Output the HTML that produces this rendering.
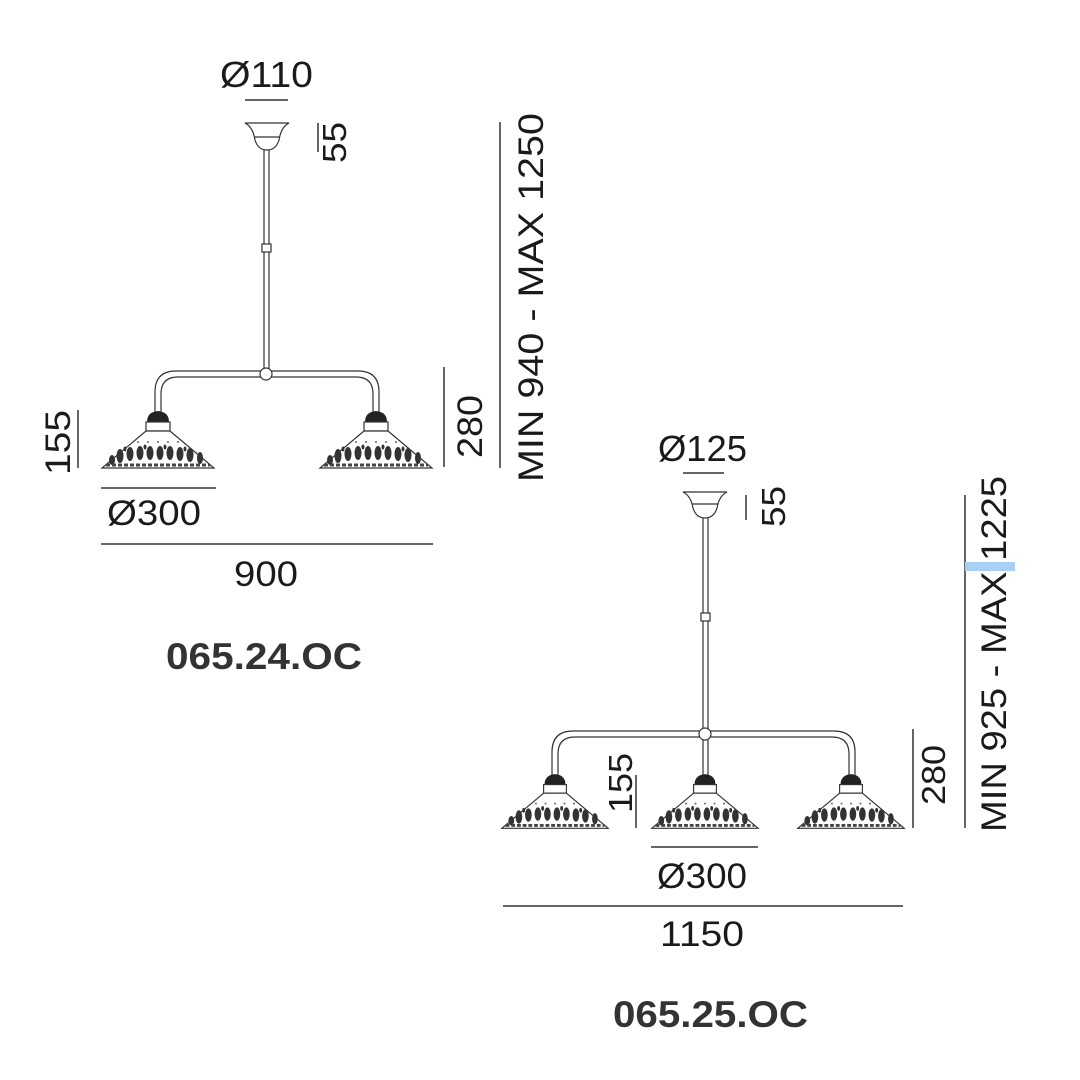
<!DOCTYPE html>
<html><head><meta charset="utf-8"><style>
html,body{margin:0;padding:0;background:#fff}
svg{display:block}
text{font-family:"Liberation Sans",sans-serif;fill:#1a1a1a}
</style></head><body>
<svg width="1080" height="1080" viewBox="0 0 1080 1080" xmlns="http://www.w3.org/2000/svg">
<defs>
<g id="shade">
 <path d="M-11,-12 Q-11,-22 0,-23 Q11,-22 11,-12 Z" fill="#222"/>
 <rect x="-12" y="-12" width="24" height="9" fill="#fff" stroke="#333" stroke-width="1.2"/>
 <path d="M-12,-3 L12,-3 L56,34 L-56,34 Z" fill="#fff" stroke="#333" stroke-width="1.2"/>
 <g fill="#333">
  <ellipse cx="-38" cy="22" rx="3.5" ry="7"/><ellipse cx="-28" cy="20" rx="3.5" ry="7"/>
  <ellipse cx="-18" cy="19" rx="3.5" ry="7"/><ellipse cx="-8" cy="19" rx="3.5" ry="7"/>
  <ellipse cx="2" cy="19" rx="3.5" ry="7"/><ellipse cx="12" cy="19" rx="3.5" ry="7"/>
  <ellipse cx="22" cy="20" rx="3.5" ry="7"/><ellipse cx="32" cy="21" rx="3.5" ry="7"/>
  <ellipse cx="42" cy="24" rx="3" ry="6"/><ellipse cx="-46" cy="26" rx="3" ry="5"/>
  <ellipse cx="-33" cy="15" rx="1.5" ry="2.5"/><ellipse cx="-13" cy="13" rx="1.5" ry="2.5"/>
  <ellipse cx="7" cy="13" rx="1.5" ry="2.5"/><ellipse cx="27" cy="15" rx="1.5" ry="2.5"/>
 </g>
 <path d="M-52,31 L52,31" stroke="#444" stroke-width="3" stroke-dasharray="4,2"/>
 <g fill="#666"><circle cx="-20" cy="8" r="1"/><circle cx="-10" cy="8" r="1"/><circle cx="0" cy="8" r="1"/><circle cx="10" cy="8" r="1"/><circle cx="20" cy="8" r="1"/></g>
</g>
</defs>

<g stroke="#333" fill="none" stroke-width="1.2">
 <path d="M245,123 L289,123 Q281,127 279,140 Q276,150 267,150 Q258,150 255,140 Q253,127 245,123 Z" fill="#fff"/>
 <line x1="255" y1="137" x2="279" y2="137"/>
 <line x1="264" y1="150" x2="264" y2="370"/><line x1="269" y1="150" x2="269" y2="370"/>
 <rect x="262" y="244" width="9" height="8" fill="#fff"/>
 <path d="M155,412 L155,392 Q155,371 176,371 L358,371 Q379,371 379,392 L379,412"/>
 <path d="M161,412 L161,394 Q161,377 178,377 L356,377 Q373,377 373,394 L373,412"/>
 <circle cx="266" cy="374" r="6" fill="#fff"/>
</g>
<use href="#shade" x="158" y="434"/>
<use href="#shade" x="376" y="434"/>

<g stroke="#333" stroke-width="1.5">
 <line x1="245" y1="100" x2="288" y2="100"/>
 <line x1="318" y1="123" x2="318" y2="152"/>
 <line x1="78" y1="410" x2="78" y2="468"/>
 <line x1="101" y1="488" x2="216" y2="488"/>
 <line x1="101" y1="544" x2="433" y2="544"/>
 <line x1="444" y1="367" x2="444" y2="467"/>
 <line x1="500" y1="122" x2="500" y2="468"/>
</g>
<text x="220" y="87" font-size="36" textLength="93" lengthAdjust="spacingAndGlyphs">Ø110</text>
<text transform="translate(346,163) rotate(-90)" font-size="33" textLength="41" lengthAdjust="spacingAndGlyphs">55</text>
<text transform="translate(70,475) rotate(-90)" font-size="35" textLength="65" lengthAdjust="spacingAndGlyphs">155</text>
<text x="107" y="525" font-size="35" textLength="94" lengthAdjust="spacingAndGlyphs">Ø300</text>
<text x="234" y="586" font-size="35" textLength="64" lengthAdjust="spacingAndGlyphs">900</text>
<text transform="translate(482,458) rotate(-90)" font-size="35" textLength="63" lengthAdjust="spacingAndGlyphs">280</text>
<text transform="translate(543,482) rotate(-90)" font-size="35" textLength="369" lengthAdjust="spacingAndGlyphs">MIN 940 - MAX 1250</text>
<text x="166" y="669" font-size="37" font-weight="bold" style="fill:#333" textLength="196" lengthAdjust="spacingAndGlyphs">065.24.OC</text>

<g stroke="#333" fill="none" stroke-width="1.2">
 <path d="M683,492 L727,492 Q719,496 717,508 Q714,518 705,518 Q696,518 693,508 Q691,496 683,492 Z" fill="#fff"/>
 <line x1="692" y1="504" x2="718" y2="504"/>
 <line x1="703" y1="518" x2="703" y2="775"/><line x1="708" y1="518" x2="708" y2="775"/>
 <rect x="701" y="613" width="9" height="8" fill="#fff"/>
 <path d="M552,775 L552,752 Q552,731 573,731 L834,731 Q855,731 855,752 L855,775"/>
 <path d="M558,775 L558,754 Q558,737 575,737 L832,737 Q849,737 849,754 L849,775"/>
 <circle cx="705" cy="734" r="6" fill="#fff"/>
</g>
<use href="#shade" x="555" y="796" transform="translate(555,796) scale(0.95) translate(-555,-796)"/>
<use href="#shade" x="705" y="796" transform="translate(705,796) scale(0.95) translate(-705,-796)"/>
<use href="#shade" x="851" y="796" transform="translate(851,796) scale(0.95) translate(-851,-796)"/>

<g stroke="#333" stroke-width="1.5">
 <line x1="683" y1="473" x2="724" y2="473"/>
 <line x1="746" y1="495" x2="746" y2="520"/>
 <line x1="636" y1="775" x2="636" y2="828"/>
 <line x1="651" y1="847" x2="758" y2="847"/>
 <line x1="503" y1="906" x2="903" y2="906"/>
 <line x1="913" y1="729" x2="913" y2="828"/>
 <line x1="965" y1="495" x2="965" y2="828"/>
</g>
<rect x="965" y="562" width="50" height="9" fill="#a8d0f5"/>
<text x="658" y="461" font-size="36" textLength="89" lengthAdjust="spacingAndGlyphs">Ø125</text>
<text transform="translate(785,527) rotate(-90)" font-size="33" textLength="41" lengthAdjust="spacingAndGlyphs">55</text>
<text transform="translate(632,813) rotate(-90)" font-size="33" textLength="60" lengthAdjust="spacingAndGlyphs">155</text>
<text x="657" y="888" font-size="35" textLength="90" lengthAdjust="spacingAndGlyphs">Ø300</text>
<text x="660" y="946" font-size="35" textLength="84" lengthAdjust="spacingAndGlyphs">1150</text>
<text transform="translate(945,805) rotate(-90)" font-size="33" textLength="60" lengthAdjust="spacingAndGlyphs">280</text>
<text transform="translate(1006,832) rotate(-90)" font-size="35" textLength="356" lengthAdjust="spacingAndGlyphs">MIN 925 - MAX 1225</text>
<text x="613" y="1027" font-size="37" font-weight="bold" style="fill:#333" textLength="195" lengthAdjust="spacingAndGlyphs">065.25.OC</text>
</svg>
</body></html>
